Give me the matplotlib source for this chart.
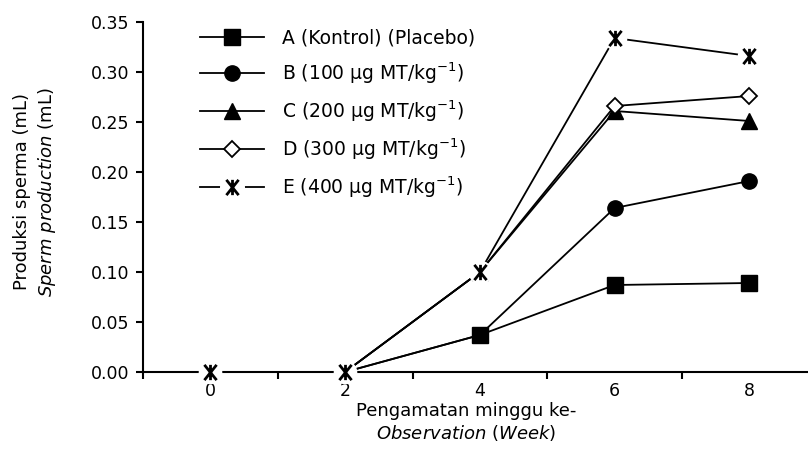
import matplotlib
matplotlib.use('Agg')
import matplotlib.pyplot as plt
from matplotlib.lines import Line2D
from matplotlib.path import Path
from matplotlib.legend_handler import HandlerTuple

weeks = [0, 2, 4, 6, 8]
a_vals = [0, 0, 0.037, 0.087, 0.089]
b_vals = [0, 0, 0.037, 0.164, 0.191]
c_vals = [0, 0, 0.100, 0.261, 0.251]
d_vals = [0, 0, 0.100, 0.266, 0.276]
e_vals = [0, 0, 0.100, 0.334, 0.316]
labels = ['A (Kontrol) (Placebo)',
          'B (100 μg MT/kg$^{-1}$)',
          'C (200 μg MT/kg$^{-1}$)',
          'D (300 μg MT/kg$^{-1}$)',
          'E (400 μg MT/kg$^{-1}$)']
yticks = [0.00, 0.05, 0.10, 0.15, 0.20, 0.25, 0.30, 0.35]
xlabels = ['0', '2', '4', '6', '8']

plt.rcParams['font.family'] = ['DejaVu Sans']
plt.rcParams['mathtext.fontset'] = 'dejavusans'
FS_TICK = 12.5
FS_LAB = 13
FS_LEG = 13.5

star_path = Path([(0, -1), (0, 1), (-0.8, -1), (0.8, 1), (-0.8, 1), (0.8, -1)],
                 [Path.MOVETO, Path.LINETO, Path.MOVETO, Path.LINETO, Path.MOVETO, Path.LINETO])

fig = plt.figure(figsize=(8.08, 4.70), dpi=100)
ax = fig.add_axes([143/808, 98/470, (808-143)/808, 350/470])

lw = 1.3
common = dict(color='black', lw=lw, markevery=[2, 3, 4])
la, = ax.plot(weeks, a_vals, marker='s', ms=11, mfc='black', mec='black', zorder=3, **common)
lb, = ax.plot(weeks, b_vals, marker='o', ms=11, mfc='black', mec='black', zorder=3.1, **common)
lc, = ax.plot(weeks, c_vals, marker='^', ms=11, mfc='black', mec='black', zorder=3.2, **common)
ld, = ax.plot(weeks, d_vals, marker='D', ms=8, mfc='white', mec='black', mew=1.3, zorder=3.3, **common)
le, = ax.plot(weeks, e_vals, color='black', lw=lw, zorder=3.4)
mask, = ax.plot(weeks, e_vals, ls='none', marker='o', ms=17, mfc='white', mec='none', zorder=5, clip_on=False)
star, = ax.plot(weeks, e_vals, ls='none', marker=star_path, ms=11, mec='black', mew=2.0, zorder=6, clip_on=False)

ax.set_xlim(-1, 8.87)
ax.set_ylim(0, 0.35)
for s in ['top', 'right']:
    ax.spines[s].set_visible(False)
for s in ['left', 'bottom']:
    ax.spines[s].set_linewidth(1.5)

ax.set_yticks(yticks)
ax.set_yticklabels([f'{v:.2f}' for v in yticks], fontsize=FS_TICK)
ax.tick_params(axis='y', direction='out', length=5, width=1.5, pad=5)

ax.set_xticks([-1, 1, 3, 5, 7])
ax.set_xticklabels([])
ax.tick_params(axis='x', which='major', direction='out', length=5, width=1.5)
ax.set_xticks(weeks, minor=True)
ax.set_xticklabels(xlabels, minor=True, fontsize=FS_TICK)
ax.tick_params(axis='x', which='minor', length=0, pad=7)

fig.text(22/808, 1 - 192/470, 'Produksi sperma (mL)', rotation=90, ha='center', va='center', fontsize=FS_LAB)
fig.text(47/808, 1 - 192/470, '$\\mathit{Sperm\\ production}$ (mL)', rotation=90, ha='center', va='center', fontsize=FS_LAB)
fig.text(466/808, 1 - 411/470, 'Pengamatan minggu ke-', ha='center', va='center', fontsize=FS_LAB)
fig.text(466/808, 1 - 433/470, '$\\mathit{Observation}$ ($\\mathit{Week}$)', ha='center', va='center', fontsize=FS_LAB)

e_line = Line2D([], [], color='black', lw=lw)
e_mask = Line2D([], [], ls='none', marker='o', ms=18, mfc='white', mec='none')
e_star = Line2D([], [], ls='none', marker=star_path, ms=11, mec='black', mew=2.0)
handles = [la, lb, lc, ld, (e_line, e_mask, e_star)]
leg = ax.legend(handles, labels, loc='upper left', bbox_to_anchor=((200-143)/665, 0.981),
                frameon=False, fontsize=FS_LEG, handlelength=3.4, handletextpad=0.95,
                labelspacing=0.67, borderaxespad=0, borderpad=0, numpoints=1,
                handler_map={tuple: HandlerTuple(ndivide=1, pad=0)})

fig.savefig('out.png', dpi=100)
